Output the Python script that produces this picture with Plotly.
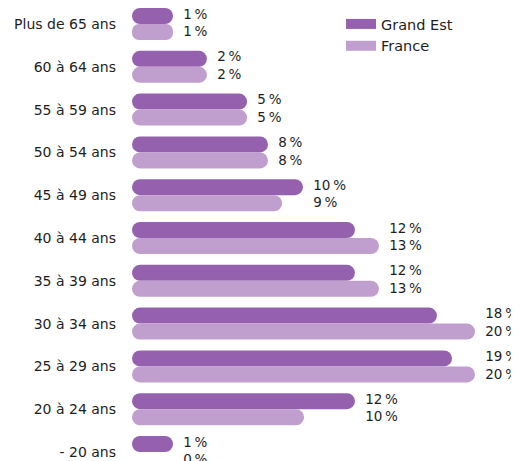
import plotly.graph_objects as go

categories = ["Plus de 65 ans", "60 à 64 ans", "55 à 59 ans", "50 à 54 ans", "45 à 49 ans",
              "40 à 44 ans", "35 à 39 ans", "30 à 34 ans", "25 à 29 ans", "20 à 24 ans", "- 20 ans"]
# bar lengths
grand_est = [2.39, 4.37, 6.71, 7.93, 9.97, 13.0, 13.0, 17.78, 18.66, 13.0, 2.39]
france = [2.39, 4.37, 6.71, 7.93, 8.75, 14.4, 14.4, 20.0, 20.0, 10.03, 0.0]
# value labels as printed
grand_est_labels = ["1", "2", "5", "8", "10", "12", "12", "18", "19", "12", "1"]
france_labels = ["1", "2", "5", "8", "9", "13", "13", "20", "20", "10", "0"]

GE_COLOR = "#9561ae"
FR_COLOR = "#c09fcf"
TXT = "#1e1e1e"
FONT = "DejaVu Sans"

idx = list(range(len(categories)))
fig = go.Figure()

for vals, color, name, group in [(grand_est, GE_COLOR, "Grand Est", "ge"),
                                 (france, FR_COLOR, "France", "fr")]:
    fig.add_trace(go.Bar(y=idx, x=vals, base=[0] * len(vals), orientation="h",
                         marker=dict(color=color, line=dict(width=0)),
                         name=name, offsetgroup=group, showlegend=False, hoverinfo="skip"))
    # legend entry drawn as a thick line swatch
    fig.add_trace(go.Scatter(x=[None], y=[None], mode="lines", name=name,
                             line=dict(color=color, width=16), showlegend=True))

pad = 0.6
sp = "\u202f%"
fig.add_trace(go.Scatter(
    y=idx, x=[max(a, b) + pad for a, b in zip(grand_est, france)],
    text=[f"{a}{sp}<br>{b}{sp}" for a, b in zip(grand_est_labels, france_labels)],
    mode="text", textposition="middle right",
    textfont=dict(family=FONT, size=13.5, color=TXT),
    showlegend=False, hoverinfo="skip", cliponaxis=False))

# the page body adds an 8px offset, so the figure is sized to fit the window
fig.update_layout(
    width=511, height=453,
    margin=dict(l=124, r=0, t=0, b=0, autoexpand=False),
    paper_bgcolor="white", plot_bgcolor="white",
    barmode="group", bargap=0.252, bargroupgap=0, barcornerradius=8,
    font=dict(family=FONT, size=13.5, color=TXT),
    xaxis=dict(visible=False, range=[0, 387 / 17.15], fixedrange=True, automargin=False),
    yaxis=dict(range=[10.21, -0.374], tickvals=idx, ticktext=categories, automargin=False,
               showgrid=False, zeroline=False, showline=False, ticks="",
               ticklabelstandoff=15, tickfont=dict(family=FONT, size=14, color=TXT)),
    legend=dict(x=0.54, y=1.0, xanchor="left", yanchor="top",
                font=dict(family=FONT, size=14.5, color=TXT),
                bgcolor="rgba(0,0,0,0)", tracegroupgap=0),
    showlegend=True,
)

fig.write_html("out.html")
